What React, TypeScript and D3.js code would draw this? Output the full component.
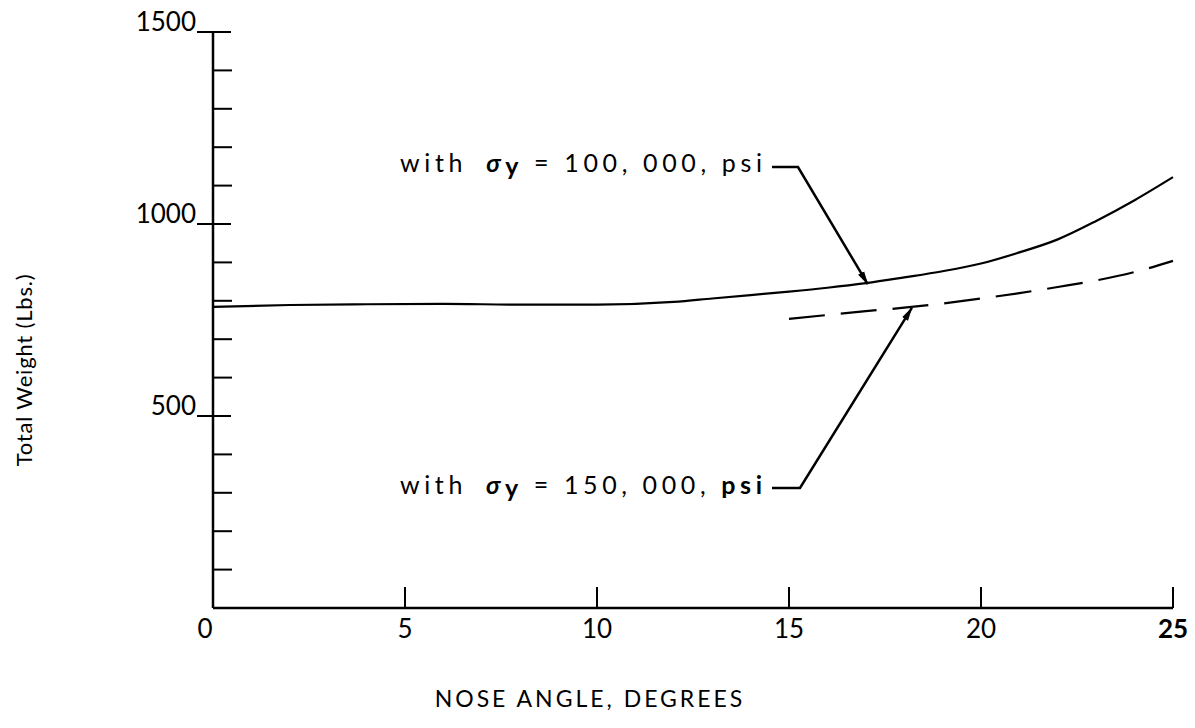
import React from "react";
import * as d3 from "d3";

// nose angle (degrees) vs total weight (lbs)
const angleHigh = [0, 2, 4, 6, 8, 10, 12, 13, 14, 15, 16, 17, 18, 19, 20, 21, 22, 23, 24, 25];
const weightHigh = [784, 789, 791, 792, 790, 790, 797, 806, 815, 824, 834, 846, 861, 877, 897, 926, 960, 1008, 1062, 1122];

const angleLow = [15, 16, 17, 18, 19, 20, 21, 22, 23, 24, 25];
const weightLow = [753, 763, 773, 782, 793, 806, 820, 836, 853, 875, 904];

const xTickValues = [0, 5, 10, 15, 20, 25];
const yMajorTicks = [500, 1000, 1500];

const W = 1195;
const H = 728;
const FONT = "Lato, 'Open Sans', sans-serif";

function Label({ y, value, boldPsi }: { y: number; value: string; boldPsi: boolean }) {
  return (
    <text x={400} y={y} fontSize={25} fill="#000" textLength={362} lengthAdjust="spacing">
      <tspan>with </tspan>
      <tspan dx={8} fontStyle="italic" fontWeight={700}>σ</tspan>
      <tspan fontWeight={700} dy={3}>y</tspan>
      <tspan dy={-3}> = {value} </tspan>
      <tspan fontWeight={boldPsi ? 700 : 400}>psi</tspan>
    </text>
  );
}

export default function App() {
  const x = d3.scaleLinear().domain([0, 25]).range([213, 1173]);
  const y = d3.scaleLinear().domain([0, 1500]).range([608, 32]);

  const line = d3
    .line<[number, number]>()
    .x((d) => x(d[0]))
    .y((d) => y(d[1]))
    .curve(d3.curveMonotoneX);

  const high = angleHigh.map((a, i) => [a, weightHigh[i]] as [number, number]);
  const low = angleLow.map((a, i) => [a, weightLow[i]] as [number, number]);

  const yMinor = d3.range(100, 1500, 100).filter((v) => !yMajorTicks.includes(v));

  // arrow tips sit on the curves
  const tipHigh: [number, number] = [x(17.05), y(846) + 1];
  const tipLow: [number, number] = [x(18.2), y(784) + 1];

  return (
    <svg
      width={W}
      height={H}
      style={{ position: "absolute", left: 0, top: 0, background: "#fff" }}
      fontFamily={FONT}
    >
      <defs>
        <marker
          id="head"
          viewBox="0 0 14 8"
          refX="13"
          refY="4"
          markerWidth="14"
          markerHeight="8"
          orient="auto"
          markerUnits="userSpaceOnUse"
        >
          <path d="M0,0.5 L14,4 L0,7.5 z" fill="#000" />
        </marker>
      </defs>

      {/* axes */}
      <line x1={x(0)} x2={x(0)} y1={y(1500)} y2={y(0)} stroke="#000" strokeWidth={2.5} />
      <line x1={x(0)} x2={x(25)} y1={y(0)} y2={y(0)} stroke="#000" strokeWidth={2.5} />

      {yMinor.map((v) => (
        <line key={v} x1={x(0)} x2={x(0) + 19} y1={y(v)} y2={y(v)} stroke="#000" strokeWidth={2} />
      ))}
      {yMajorTicks.map((v) => (
        <g key={v}>
          <line x1={x(0) - 16} x2={x(0) + 18} y1={y(v)} y2={y(v)} stroke="#000" strokeWidth={2} />
          <text x={x(0) - 17} y={y(v) - 1} textAnchor="end" fontSize={26} fill="#000">
            {v}
          </text>
        </g>
      ))}

      {xTickValues.map((v) => (
        <g key={v}>
          {v > 0 && (
            <line x1={x(v)} x2={x(v)} y1={y(0)} y2={y(0) - 21} stroke="#000" strokeWidth={2} />
          )}
          <text
            x={v === 0 ? x(v) - 8 : x(v)}
            y={y(0) + 30}
            textAnchor="middle"
            fontSize={26}
            fontWeight={v === 25 ? 700 : 400}
            fill="#000"
          >
            {v}
          </text>
        </g>
      ))}

      {/* curves */}
      <path d={line(high) || ""} fill="none" stroke="#000" strokeWidth={2.2} />
      <path
        d={line(low) || ""}
        fill="none"
        stroke="#000"
        strokeWidth={2.2}
        strokeDasharray="36 16"
      />

      {/* annotations */}
      <Label y={172} value="100, 000," boldPsi={false} />
      <polyline
        points={`772,167 798,167 ${tipHigh[0]},${tipHigh[1]}`}
        fill="none"
        stroke="#000"
        strokeWidth={2.5}
        markerEnd="url(#head)"
      />

      <Label y={494} value="150, 000," boldPsi={true} />
      <polyline
        points={`772,488 800,488 ${tipLow[0]},${tipLow[1]}`}
        fill="none"
        stroke="#000"
        strokeWidth={2.5}
        markerEnd="url(#head)"
      />

      {/* axis titles */}
      <text
        transform={`translate(32, ${370}) rotate(-90)`}
        textAnchor="middle"
        fontSize={22}
        fill="#000"
        letterSpacing={0.8}
      >
        Total Weight (Lbs.)
      </text>
      <text x={590} y={707} textAnchor="middle" fontSize={23} fill="#000" letterSpacing={3}>
        NOSE ANGLE, DEGREES
      </text>
    </svg>
  );
}
